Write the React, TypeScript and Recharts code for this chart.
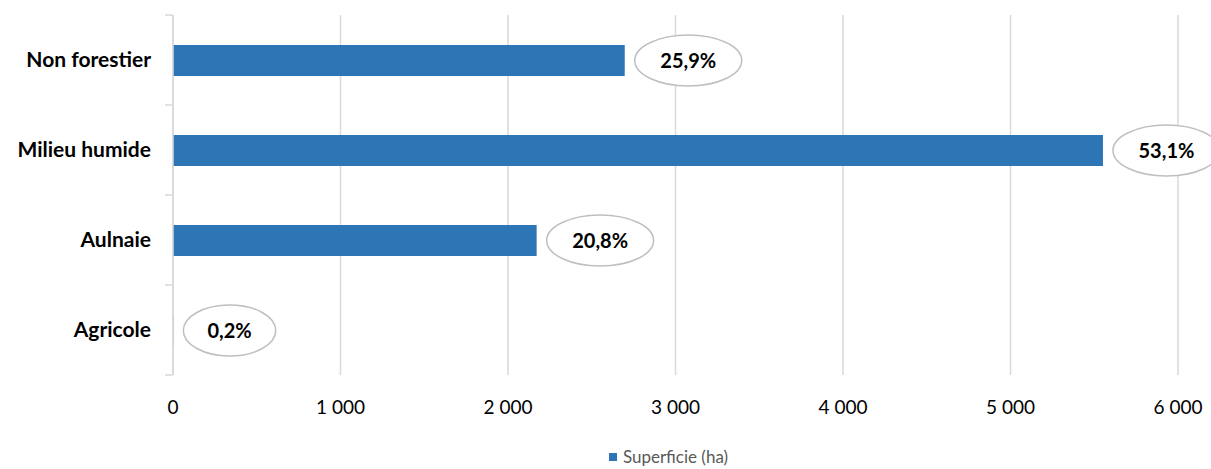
import { Bar, BarChart, CartesianGrid, LabelList, Legend, XAxis, YAxis } from "recharts";

const categories = ["Non forestier", "Milieu humide", "Aulnaie", "Agricole"];
const superficie = [2697, 5552, 2171, 2];
const parts = ["25,9%", "53,1%", "20,8%", "0,2%"];
const xTicks = [0, 1000, 2000, 3000, 4000, 5000, 6000];

const data = categories.map((name, i) => ({ name, superficie: superficie[i], part: parts[i] }));

const BLUE = "#2E75B6";
const GRID = "#d9d9d9";
const FONT = "Lato, 'Open Sans', sans-serif";

const fmt = (v: number) => String(v).replace(/\B(?=(\d{3})+(?!\d))/g, " ");

function CategoryTick(props: any) {
  const { x, y, payload, index, visibleTicksCount } = props;
  const half = payload.offset ?? 45;
  const x0 = x + 14;
  const x1 = x + 22;
  return (
    <g>
      <line x1={x0} x2={x1} y1={y - half} y2={y - half} stroke={GRID} strokeWidth={1.5} />
      {index === visibleTicksCount - 1 && (
        <line x1={x0} x2={x1} y1={y + half} y2={y + half} stroke={GRID} strokeWidth={1.5} />
      )}
      <text x={x} y={y} dy={7} textAnchor="end" fontFamily={FONT} fontSize={21} fontWeight={700} fill="#000">
        {payload.value}
      </text>
    </g>
  );
}

function BubbleLabel(props: any) {
  const { x, y, width, height, value } = props;
  const text = String(value);
  const rx = 17 + 7.3 * text.length;
  const cx = x + width + 10 + rx;
  const cy = y + height / 2;
  return (
    <g>
      <ellipse cx={cx} cy={cy} rx={rx} ry={25.5} fill="#fff" stroke="#bfbfbf" strokeWidth={1.5} />
      <text x={cx} y={cy} dy={7} textAnchor="middle" fontFamily={FONT} fontSize={20} fontWeight={700} fill="#000">
        {text}
      </text>
    </g>
  );
}

function LegendContent() {
  return (
    <div style={{ height: 54, paddingTop: 30, boxSizing: "border-box", display: "flex", justifyContent: "center", alignItems: "center", paddingLeft: 126, fontFamily: FONT, fontSize: 17, color: "#595959", lineHeight: "20px" }}>
      <span style={{ width: 8, height: 8, background: BLUE, display: "inline-block", marginRight: 6 }} />
      <span>Superficie (ha)</span>
    </div>
  );
}

export default function App() {
  return (
    <div style={{ position: "absolute", left: 0, top: 0, background: "#fff" }}>
      <BarChart
        width={1211}
        height={469}
        data={data}
        layout="vertical"
        margin={{ top: 15, right: 33, left: 0, bottom: 0 }}
      >
        <CartesianGrid horizontal={false} stroke={GRID} strokeWidth={1.5} />
        <XAxis
          type="number"
          domain={[0, 6000]}
          ticks={xTicks}
          tickFormatter={fmt}
          axisLine={false}
          tickLine={false}
          height={40}
          tickMargin={20}
          tick={{ fontFamily: FONT, fontSize: 19, fill: "#000" }}
          interval={0}
        />
        <YAxis
          type="category"
          dataKey="name"
          width={173}
          tickSize={0}
          tickMargin={22}
          tickLine={false}
          axisLine={{ stroke: GRID, strokeWidth: 1.5 }}
          tick={<CategoryTick />}
          interval={0}
        />
        <Legend verticalAlign="bottom" content={<LegendContent />} wrapperStyle={{ left: 0, width: 1211 }} />
        <Bar dataKey="superficie" name="Superficie (ha)" fill={BLUE} barSize={31} isAnimationActive={false}>
          <LabelList dataKey="part" content={<BubbleLabel />} />
        </Bar>
      </BarChart>
    </div>
  );
}
